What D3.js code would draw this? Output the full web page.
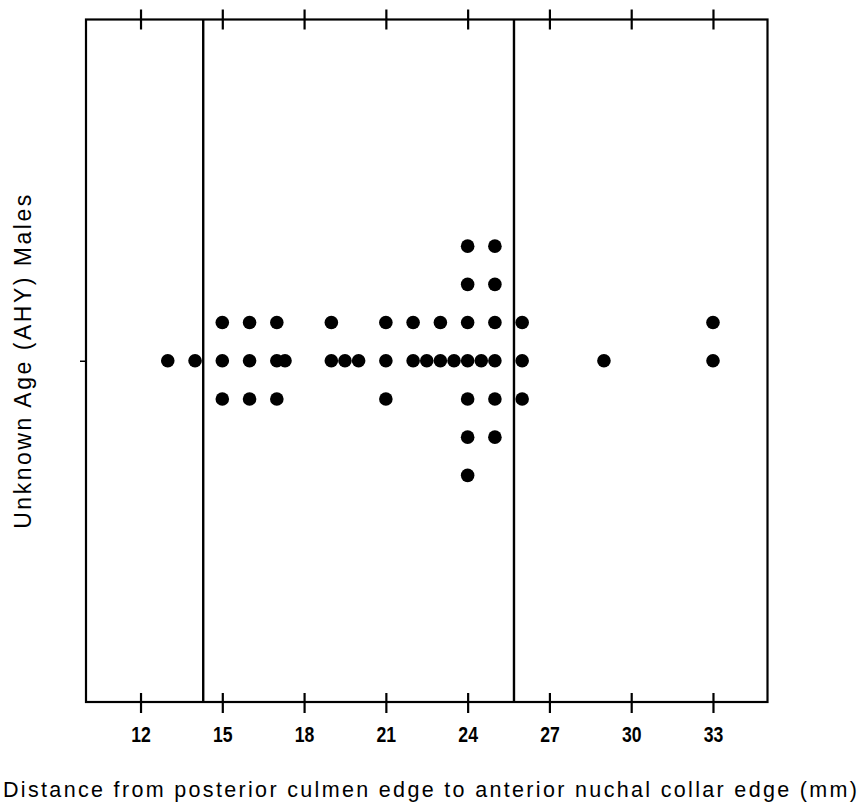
<!DOCTYPE html>
<html>
<head>
<meta charset="utf-8">
<script src="https://cdn.jsdelivr.net/npm/d3@7"></script>
<style>
  html, body { margin: 0; padding: 0; background: #fff; }
  svg { display: block; }
</style>
</head>
<body>
<div id="chart"></div>
<script>
// ---- data ----
const values = [13, 14, 15, 16, 17, 17.3, 19, 19.5, 20, 21, 22, 22.5, 23, 23.5, 24, 24.5, 25, 26, 29, 33];
const counts = [1, 1, 3, 3, 3, 1, 2, 1, 1, 3, 2, 1, 2, 1, 7, 1, 6, 3, 1, 2];
const xTicks = [12, 15, 18, 21, 24, 27, 30, 33];
const refLines = [14.3, 25.7];
const categories = ["Unknown Age (AHY) Males"];
const xTitle = "Distance from posterior culmen edge to anterior nuchal collar edge (mm)";

// ---- layout ----
const W = 861, H = 803;
const mLeft = 86, mRight = 767.5, mTop = 19.5, mBottom = 702;
const dotR = 6.8, rowGap = 38.2;

const svg = d3.select("#chart").append("svg").attr("width", W).attr("height", H);

const x = d3.scaleLinear().domain([10, 35]).range([mLeft, mRight]);
const y = d3.scalePoint().domain(categories).range([mBottom, mTop]).padding(0.5);
const stack = d3.scaleLinear().domain([-1, 1]).range([rowGap, -rowGap]);

// frame
svg.append("rect")
  .attr("x", mLeft).attr("y", mTop)
  .attr("width", mRight - mLeft).attr("height", mBottom - mTop)
  .attr("fill", "none").attr("stroke", "#000").attr("stroke-width", 2.2);

// bottom axis
const gB = svg.append("g").attr("transform", `translate(0,${mBottom})`)
  .call(d3.axisBottom(x).tickValues(xTicks).tickSize(11).tickPadding(13).tickFormat(d3.format("d")));
gB.select(".domain").remove();
gB.selectAll(".tick line").attr("y1", -9).attr("stroke", "#000").attr("stroke-width", 2.2);
gB.selectAll(".tick text")
  .attr("font-family", "'Liberation Sans', Arial, sans-serif")
  .attr("font-weight", "bold").attr("font-size", 22).attr("fill", "#000")
  .attr("transform", "scale(0.8,1)");

// top axis
const gT = svg.append("g").attr("transform", `translate(0,${mTop})`)
  .call(d3.axisTop(x).tickValues(xTicks).tickSize(10).tickFormat(""));
gT.select(".domain").remove();
gT.selectAll(".tick line").attr("y1", 10).attr("stroke", "#000").attr("stroke-width", 2.2);

// left axis (single category tick, no label)
const gL = svg.append("g").attr("transform", `translate(${mLeft},0)`)
  .call(d3.axisLeft(y).tickSize(6).tickFormat(""));
gL.select(".domain").remove();
gL.selectAll(".tick line").attr("stroke", "#000").attr("stroke-width", 1.5);

// reference lines
svg.append("g").selectAll("line").data(refLines).join("line")
  .attr("x1", d => x(d)).attr("x2", d => x(d))
  .attr("y1", mTop).attr("y2", mBottom)
  .attr("stroke", "#000").attr("stroke-width", 2.4);

// dots (symmetric dot plot stacking)
const pts = [];
values.forEach((v, k) => {
  for (let i = 0; i < counts[k]; i++) {
    const off = i === 0 ? 0 : (i % 2 === 1 ? (i + 1) / 2 : -i / 2);
    pts.push({ v, off, cat: categories[0] });
  }
});
svg.append("g").selectAll("circle").data(pts).join("circle")
  .attr("cx", d => x(d.v))
  .attr("cy", d => y(d.cat) + stack(d.off))
  .attr("r", dotR)
  .attr("fill", "#000");

// titles
svg.append("text")
  .attr("x", 3).attr("y", 797)
  .attr("font-family", "'Liberation Sans', Arial, sans-serif")
  .attr("font-size", 21.5).attr("fill", "#000")
  .attr("textLength", 854).attr("lengthAdjust", "spacing")
  .text(xTitle);

svg.append("text")
  .attr("transform", `translate(31,${y(categories[0]) + 168}) rotate(-90)`)
  .attr("x", 0).attr("y", 0)
  .attr("font-family", "'Liberation Sans', Arial, sans-serif")
  .attr("font-size", 23).attr("fill", "#000")
  .attr("textLength", 334).attr("lengthAdjust", "spacing")
  .text(categories[0]);
</script>
</body>
</html>
